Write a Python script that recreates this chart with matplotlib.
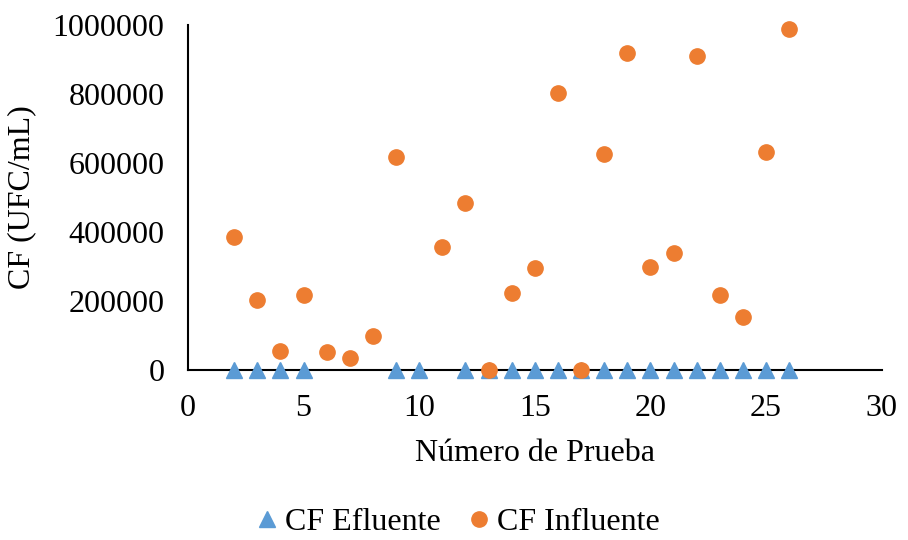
import numpy as np
import matplotlib
matplotlib.use("Agg")
import matplotlib.pyplot as plt

plt.rcParams['font.family'] = ['Liberation Serif', 'DejaVu Serif']

# Datos
x_efluente = [2, 3, 4, 5, 9, 10, 12, 13, 14, 15, 16, 17, 18, 19, 20, 21, 22, 23, 24, 25, 26]
y_efluente = [0] * len(x_efluente)

x_influente = [2, 3, 4, 5, 6, 7, 8, 9, 11, 12, 13, 14, 15, 16, 17, 18, 19, 20, 21, 22, 23, 24, 25, 26]
y_influente = [386000, 202000, 56000, 216000, 53000, 34000, 97000, 617000, 357000, 483000, 0,
               223000, 294000, 802000, 0, 625000, 918000, 298000, 338000, 910000, 216000,
               153000, 631000, 987000]

x_ticks = [0, 5, 10, 15, 20, 25, 30]
y_ticks = [0, 200000, 400000, 600000, 800000, 1000000]

fig = plt.figure(figsize=(9.08, 5.4), dpi=100)
ax = fig.add_axes([0.207, 0.315, 0.764, 0.639])

ax.plot(x_efluente, y_efluente, linestyle='none', marker='^', markersize=11,
        color='#5B9BD5', label='CF Efluente', clip_on=False, zorder=3)
ax.plot(x_influente, y_influente, linestyle='none', marker='o', markersize=11,
        color='#ED7D31', label='CF Influente', clip_on=False, zorder=4)

ax.set_xlim(0, 30)
ax.set_ylim(0, 1000000)
ax.set_xticks(x_ticks)
ax.set_yticks(y_ticks)
ax.set_yticklabels([str(v) for v in y_ticks])
ax.tick_params(axis='both', length=0, labelsize=23, colors='black')
ax.tick_params(axis='x', pad=17)
ax.tick_params(axis='y', pad=17)

for pos in ['top', 'right']:
    ax.spines[pos].set_visible(False)
for pos in ['left', 'bottom']:
    ax.spines[pos].set_linewidth(1.5)
    ax.spines[pos].set_color('black')

ax.set_xlabel('Número de Prueba', fontsize=23, labelpad=12)
ax.set_ylabel('CF (UFC/mL)', fontsize=23, labelpad=12)

fig.legend(loc='center', bbox_to_anchor=(0.505, 0.033), ncol=2, frameon=False,
           fontsize=23, handlelength=0.6, handletextpad=0.25, columnspacing=0.9,
           markerscale=1.0)

plt.savefig('out.png', dpi=100)
